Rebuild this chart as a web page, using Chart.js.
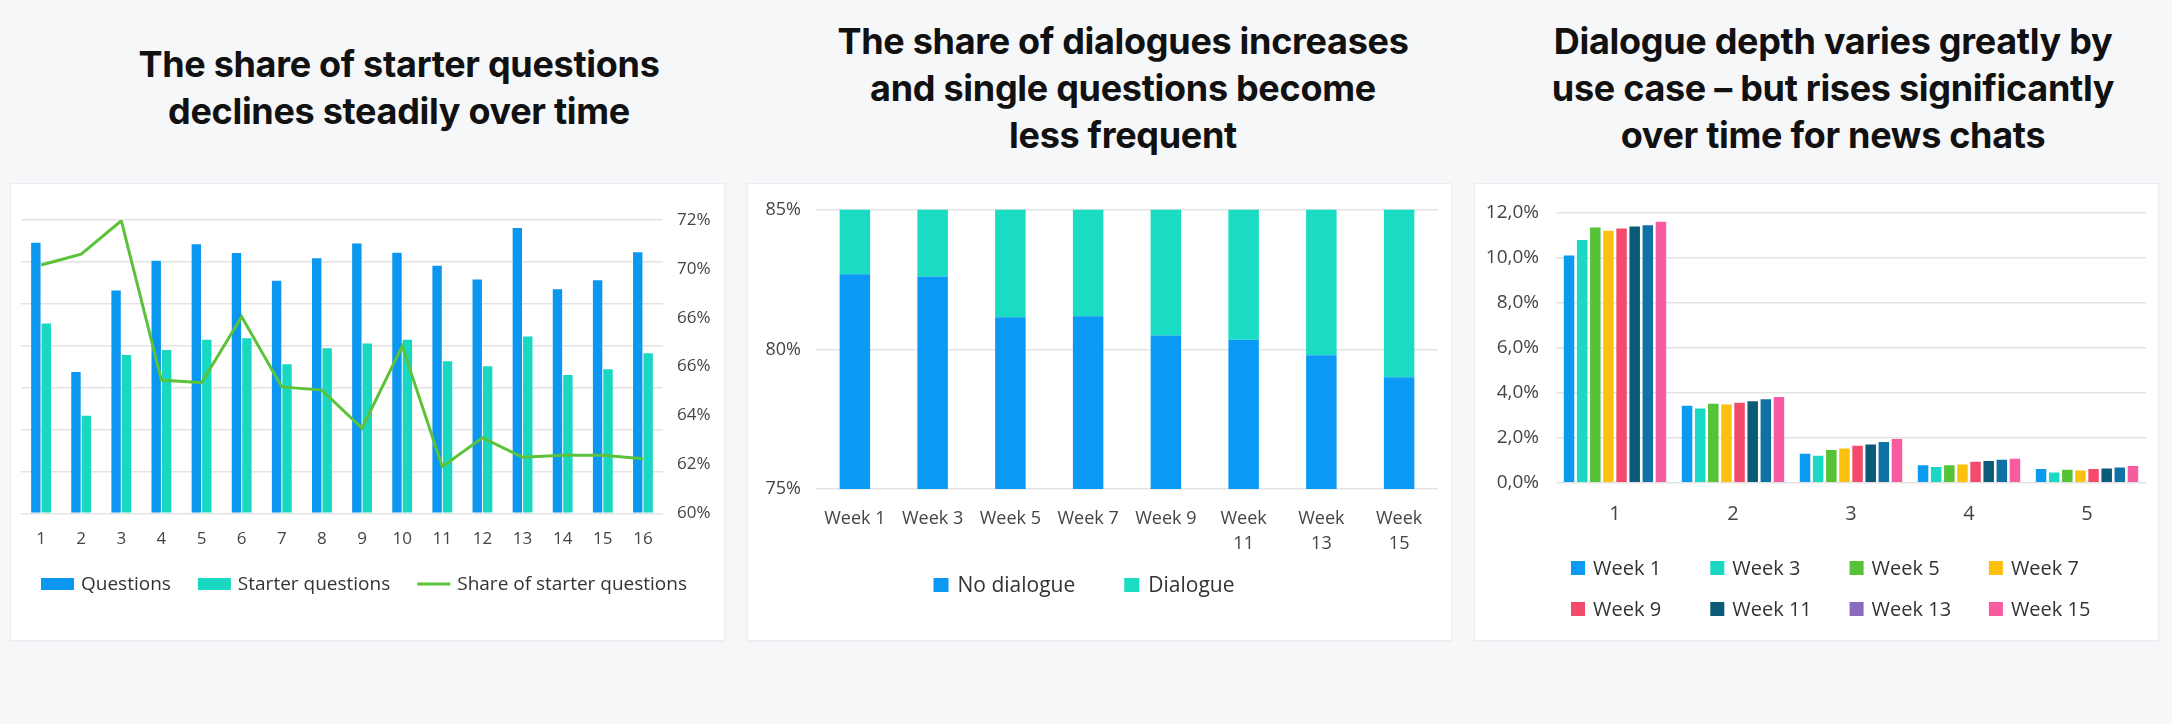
<!DOCTYPE html>
<html>
<head>
<meta charset="utf-8">
<script src="https://cdn.jsdelivr.net/npm/chart.js@4.4.1/dist/chart.umd.min.js"></script>
<style>
html,body{margin:0;padding:0;background:#f6f7f9;}
body{width:2172px;height:724px;position:relative;overflow:hidden;}
.title{position:absolute;font-family:Inter,"Open Sans",sans-serif;font-weight:700;font-size:36px;line-height:47px;color:#111;text-align:center;white-space:nowrap;transform:translateX(-50%);letter-spacing:-0.3px;}
.card{position:absolute;top:184px;height:456px;background:#fff;box-shadow:0 0 0 1px #eaecef,0 1px 3px rgba(0,0,0,0.04);}
.card canvas{position:absolute;left:0;top:0;}
</style>
</head>
<body>
<div class="title" style="left:399px;top:41px;">The share of starter questions<br>declines steadily over time</div>
<div class="title" style="left:1123px;top:18px;">The share of dialogues increases<br>and single questions become<br>less frequent</div>
<div class="title" style="left:1833px;top:18px;">Dialogue depth varies greatly by<br>use case – but rises significantly<br>over time for news chats</div>

<div class="card" style="left:11px;width:713px;"><canvas id="c1" width="713" height="456"></canvas></div>
<div class="card" style="left:748px;width:703px;"><canvas id="c2" width="703" height="456"></canvas></div>
<div class="card" style="left:1475px;width:683px;"><canvas id="c3" width="683" height="456"></canvas></div>

<script>
// ---------- DATA ----------
// Panel 1
const weekNumbers = ['1','2','3','4','5','6','7','8','9','10','11','12','13','14','15','16'];
const questions = [6460,3370,5320,6030,6420,6210,5550,6090,6440,6220,5910,5580,6810,5350,5560,6230];
const starterQuestions = [4530,2330,3780,3900,4140,4180,3560,3940,4050,4140,3630,3510,4220,3300,3440,3820];
const starterShare = [70.16,70.6,71.97,65.45,65.34,68.04,65.17,65.04,63.48,66.84,61.91,63.09,62.29,62.37,62.37,62.23];
const shareTickLabels = ['60%','62%','64%','66%','66%','70%','72%'];

// Panel 2
const dialogueWeeks = ['Week 1','Week 3','Week 5','Week 7','Week 9','Week 11','Week 13','Week 15'];
const noDialogue = [82.69,82.61,81.15,81.19,80.50,80.35,79.79,79.00];
const dialogue = [17.31,17.39,18.85,18.81,19.50,19.65,20.21,21.00];
const dialogueTickLabels = ['75%','80%','85%'];

// Panel 3
const depthCategories = ['1','2','3','4','5'];
const depthSeriesNames = ['Week 1','Week 3','Week 5','Week 7','Week 9','Week 11','Week 13','Week 15'];
const depthWeek1  = [10.09,3.42,1.28,0.77,0.61];
const depthWeek3  = [10.77,3.29,1.20,0.70,0.45];
const depthWeek5  = [11.33,3.51,1.45,0.78,0.57];
const depthWeek7  = [11.19,3.47,1.52,0.81,0.54];
const depthWeek9  = [11.28,3.55,1.64,0.93,0.61];
const depthWeek11 = [11.37,3.62,1.70,0.96,0.63];
const depthWeek13 = [11.43,3.70,1.81,1.02,0.68];
const depthWeek15 = [11.58,3.80,1.94,1.06,0.74];
const depthTickLabels = ['0,0%','2,0%','4,0%','6,0%','8,0%','10,0%','12,0%'];

// ---------- STYLE ----------
const BLUE = '#0b96ef', TEAL = '#18d8c2', GREEN = '#5cc23a';
const depthBarColors = ['#0a9af0','#1ad8c3','#55c237','#fcc10d','#f44b6d','#0b5b78','#0f72a6','#f85ba0'];
const depthLegendColors = ['#0a9af0','#1ad8c3','#55c237','#fcc10d','#f44b6d','#0b5b78','#8b6bbd','#f85ba0'];
const GRID = '#e3e3e5';

Chart.defaults.font.family = "'Open Sans', sans-serif";
Chart.defaults.color = '#444';
Chart.defaults.animation = false;

const depthData = [depthWeek1,depthWeek3,depthWeek5,depthWeek7,depthWeek9,depthWeek11,depthWeek13,depthWeek15];

// Legend drawn by a small Chart.js plugin (row-centred or fixed grid)
const customLegend = {
  id:'customLegend',
  afterDraw(chart, args, o){
    const ctx = chart.ctx;
    ctx.save();
    ctx.font = o.fontSize + "px 'Open Sans', sans-serif";
    ctx.textBaseline = 'middle';
    ctx.textAlign = 'left';
    const items = chart.data.datasets.map((ds,i)=>({
      text: ds.label,
      line: ds.type === 'line',
      color: o.colors ? o.colors[i] : (ds.type === 'line' ? ds.borderColor : ds.backgroundColor)
    }));
    let pos;
    if (o.cols) {
      pos = items.map((it,i)=>({x:o.x + (i % o.cols)*o.colW, y:o.y + Math.floor(i / o.cols)*o.rowH}));
    } else {
      const widths = items.map(it=>o.boxW + o.textGap + ctx.measureText(it.text).width);
      const total = widths.reduce((a,b)=>a+b,0) + o.gap*(items.length-1);
      let x = o.cx - total/2;
      pos = widths.map(w=>{const p = {x, y:o.y}; x += w + o.gap; return p;});
    }
    items.forEach((it,i)=>{
      const {x,y} = pos[i];
      if (it.line) {
        ctx.strokeStyle = it.color; ctx.lineWidth = 3;
        ctx.beginPath(); ctx.moveTo(x, y); ctx.lineTo(x + o.boxW, y); ctx.stroke();
      } else {
        ctx.fillStyle = it.color;
        ctx.fillRect(x, y - o.boxH/2, o.boxW, o.boxH);
      }
      ctx.fillStyle = '#333';
      ctx.fillText(it.text, x + o.boxW + o.textGap, y + 1);
    });
    ctx.restore();
  }
};

// ---------- PANEL 1 ----------
new Chart(document.getElementById('c1'), {
  type: 'bar',
  data: {
    labels: weekNumbers,
    datasets: [
      {label:'Questions', data:questions, backgroundColor:BLUE, yAxisID:'y', categoryPercentage:0.52, barPercentage:0.9, order:1},
      {label:'Starter questions', data:starterQuestions, backgroundColor:TEAL, yAxisID:'y', categoryPercentage:0.52, barPercentage:0.9, order:1},
      {type:'line', label:'Share of starter questions', data:starterShare, borderColor:GREEN, backgroundColor:GREEN, borderWidth:3, pointRadius:0, tension:0, yAxisID:'y1', order:0}
    ]
  },
  options: {
    responsive:false, devicePixelRatio:1,
    layout:{padding:{left:10,right:0,top:36,bottom:81.7}},
    scales:{
      x:{grid:{display:false,drawTicks:false}, border:{display:false}, ticks:{padding:16, font:{size:17}}, afterFit(s){s.height=45;}},
      y:{position:'left', min:0, max:7000, ticks:{display:false, stepSize:1000}, grid:{color:GRID, lineWidth:1.5, drawTicks:false}, border:{display:false}, afterFit(s){s.width=0;}},
      y1:{position:'right', min:60, max:72, ticks:{stepSize:2, padding:14, font:{size:17}, callback:(v,i)=>shareTickLabels[i]}, grid:{display:false, drawTicks:false}, border:{display:false}, afterFit(s){s.width=61;}}
    },
    plugins:{
      legend:{display:false},
      tooltip:{enabled:false},
      customLegend:{fontSize:19, cx:353, y:400, boxW:33, boxH:12, textGap:7, gap:27}
    }
  },
  plugins:[customLegend]
});

// ---------- PANEL 2 ----------
new Chart(document.getElementById('c2'), {
  type:'bar',
  data:{
    labels: dialogueWeeks,
    datasets:[
      {label:'No dialogue', data:noDialogue, backgroundColor:'#0a9af5', categoryPercentage:0.8, barPercentage:0.49},
      {label:'Dialogue', data:dialogue, backgroundColor:'#1adcc3', categoryPercentage:0.8, barPercentage:0.49}
    ]
  },
  options:{
    responsive:false, devicePixelRatio:1,
    layout:{padding:{left:0,right:13,top:25,bottom:81}},
    scales:{
      x:{stacked:true, grid:{display:false,drawTicks:false}, border:{display:false},
         ticks:{padding:17, font:{size:18, lineHeight:1.42}, maxRotation:0, autoSkip:false,
                callback:(v,i)=>{const s = dialogueWeeks[i]; return s.length > 6 ? s.split(' ') : s;}},
         afterFit(s){s.height=70;}},
      y:{stacked:true, min:75, max:85, ticks:{stepSize:5, padding:15, font:{size:18}, callback:(v,i)=>dialogueTickLabels[i]},
         grid:{color:GRID, lineWidth:1.5, drawTicks:false}, border:{display:false}, afterFit(s){s.width=68;}}
    },
    plugins:{
      legend:{display:false},
      tooltip:{enabled:false},
      customLegend:{fontSize:21, cx:336, y:401, boxW:15, boxH:14, textGap:9, gap:49}
    }
  },
  plugins:[customLegend]
});

// ---------- PANEL 3 ----------
new Chart(document.getElementById('c3'), {
  type:'bar',
  data:{
    labels: depthCategories,
    datasets: depthSeriesNames.map((name,i)=>({label:name, data:depthData[i], backgroundColor:depthBarColors[i], categoryPercentage:0.89, barPercentage:0.8}))
  },
  options:{
    responsive:false, devicePixelRatio:1,
    layout:{padding:{left:0,right:12,top:23,bottom:97.3}},
    scales:{
      x:{grid:{display:false,drawTicks:false}, border:{display:false}, ticks:{padding:20, font:{size:20}}, afterFit(s){s.height=60;}},
      y:{min:0, max:12, ticks:{stepSize:2, padding:17, font:{size:19}, callback:(v,i)=>depthTickLabels[i]},
         grid:{color:GRID, lineWidth:1.5, drawTicks:false}, border:{display:false}, afterFit(s){s.width=81;}}
    },
    plugins:{
      legend:{display:false},
      tooltip:{enabled:false},
      customLegend:{fontSize:20, x:96, y:384, colW:139.3, rowH:41, cols:4, boxW:14, boxH:14, textGap:8, colors:depthLegendColors}
    }
  },
  plugins:[customLegend]
});
</script>
</body>
</html>
